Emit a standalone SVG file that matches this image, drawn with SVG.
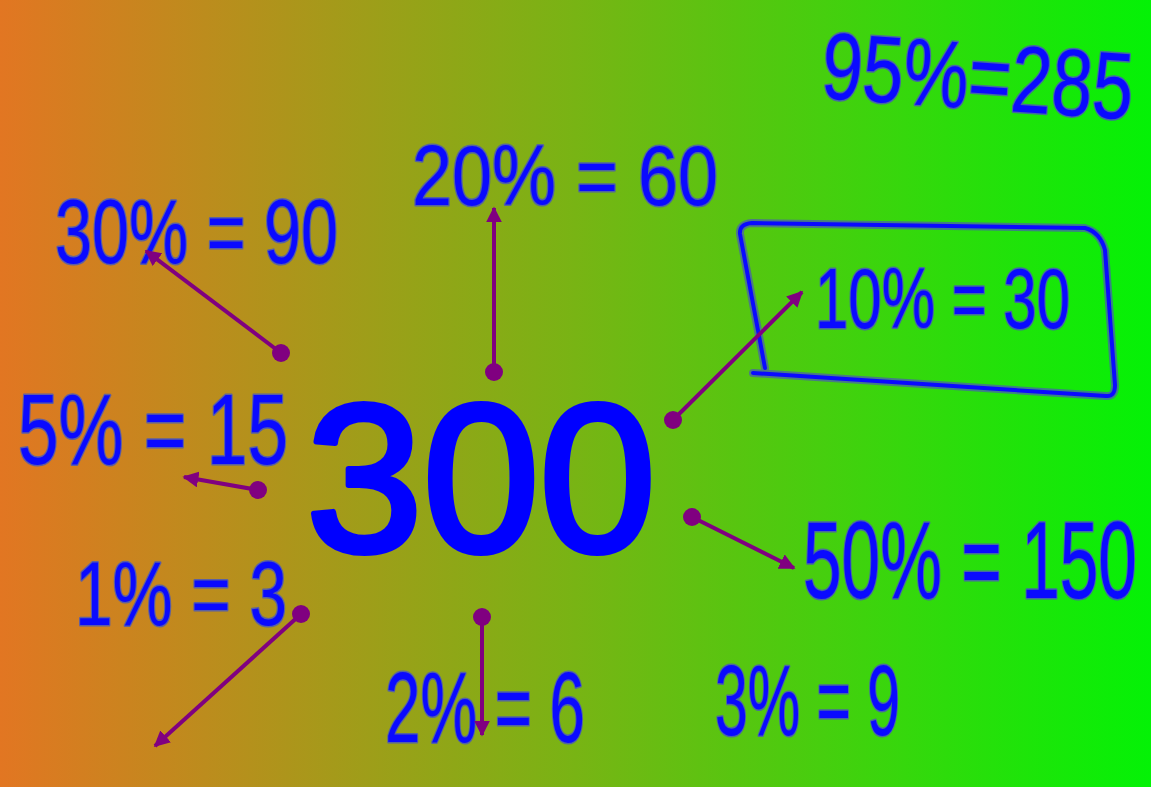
<svg xmlns="http://www.w3.org/2000/svg" width="1151" height="787" viewBox="0 0 1151 787">
<defs>
<linearGradient id="bg" x1="0" y1="0" x2="1" y2="0">
<stop offset="0" stop-color="#e27622"/>
<stop offset="0.5" stop-color="#78b414"/>
<stop offset="1" stop-color="#04f206"/>
</linearGradient>
<marker id="ah" viewBox="0 0 10 10" refX="9" refY="5" markerWidth="4" markerHeight="4" orient="auto" markerUnits="strokeWidth">
<path d="M0,0 L10,5 L0,10 z" fill="#800080"/>
</marker>
<style>
.hw{font-family:"Liberation Sans","DejaVu Sans",sans-serif;fill:#0a0aff;stroke:#4a58b8;stroke-width:3;paint-order:stroke;stroke-linejoin:round;stroke-opacity:0.85}
.big{font-family:"Liberation Sans","DejaVu Sans",sans-serif;fill:#0000ff;stroke:#0000ff;stroke-width:6;stroke-linejoin:round;font-size:210px}
.con line{stroke:#800080;stroke-width:4;marker-end:url(#ah)}
.con circle{fill:#800080}
.box{fill:none;stroke:#0a0aff;stroke-width:4;stroke-linejoin:round;stroke-linecap:round}
.boxh{fill:none;stroke:#4a58b8;stroke-width:8;stroke-opacity:0.7;stroke-linejoin:round;stroke-linecap:round}
</style>
</defs>
<rect x="0" y="0" width="1151" height="787" fill="url(#bg)"/>
<g id="center"><text class="big" x="306" y="551" textLength="350" lengthAdjust="spacingAndGlyphs">300</text></g>
<g id="n95"><text class="hw" x="820" y="98" font-size="95" textLength="312" lengthAdjust="spacingAndGlyphs" transform="rotate(4 820 98)">95%=285</text></g>
<g id="n20"><text class="hw" x="412" y="205" font-size="85" textLength="306" lengthAdjust="spacingAndGlyphs">20% = 60</text></g>
<g id="n30"><text class="hw" x="55" y="263" font-size="90" textLength="283" lengthAdjust="spacingAndGlyphs">30% = 90</text></g>
<g id="n10">
<path class="boxh" d="M765,368 L740,234 Q739,224 752,223 L1085,228 Q1100,232 1105,250 L1115,385 Q1115,397 1106,396 L753,373"/>
<path class="box" d="M765,368 L740,234 Q739,224 752,223 L1085,228 Q1100,232 1105,250 L1115,385 Q1115,397 1106,396 L753,373"/>
<text class="hw" x="815" y="328" font-size="85" textLength="255" lengthAdjust="spacingAndGlyphs">10% = 30</text>
</g>
<g id="n5"><text class="hw" x="18" y="464" font-size="100" textLength="270" lengthAdjust="spacingAndGlyphs">5% = 15</text></g>
<g id="n50"><text class="hw" x="803" y="598" font-size="110" textLength="334" lengthAdjust="spacingAndGlyphs">50% = 150</text></g>
<g id="n1"><text class="hw" x="75" y="625" font-size="90" textLength="212" lengthAdjust="spacingAndGlyphs">1% = 3</text></g>
<g id="n2"><text class="hw" x="385" y="742" font-size="100" textLength="200" lengthAdjust="spacingAndGlyphs">2% = 6</text></g>
<g id="n3"><text class="hw" x="715" y="735" font-size="100" textLength="185" lengthAdjust="spacingAndGlyphs">3% = 9</text></g>
<g id="connectors" class="con">
<line x1="281" y1="353" x2="146" y2="251"/><circle cx="281" cy="353" r="9"/>
<line x1="494" y1="372" x2="494" y2="208"/><circle cx="494" cy="372" r="9"/>
<line x1="673" y1="420" x2="802" y2="292"/><circle cx="673" cy="420" r="9"/>
<line x1="258" y1="490" x2="184" y2="477"/><circle cx="258" cy="490" r="9"/>
<line x1="692" y1="517" x2="794" y2="568"/><circle cx="692" cy="517" r="9"/>
<line x1="301" y1="614" x2="155" y2="746"/><circle cx="301" cy="614" r="9"/>
<line x1="482" y1="617" x2="482" y2="735"/><circle cx="482" cy="617" r="9"/>
</g>
</svg>
